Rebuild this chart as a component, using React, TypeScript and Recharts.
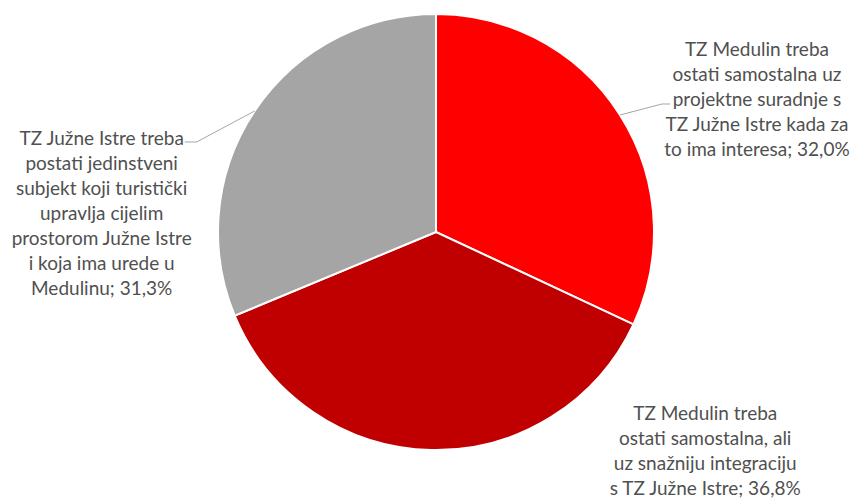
import { PieChart, Pie, Cell } from "recharts";

const categories = [
  "TZ Medulin treba ostati samostalna uz projektne suradnje s TZ Južne Istre kada za to ima interesa",
  "TZ Medulin treba ostati samostalna, ali uz snažniju integraciju s TZ Južne Istre",
  "TZ Južne Istre treba postati jedinstveni subjekt koji turistički upravlja cijelim prostorom Južne Istre i koja ima urede u Medulinu",
];
const values = [32.0, 36.8, 31.3];
const valueLabels = ["32,0%", "36,8%", "31,3%"];
const labelLines = [
  ["TZ Medulin treba", "ostati samostalna uz", "projektne suradnje s", "TZ Južne Istre kada za", "to ima interesa; 32,0%"],
  ["TZ Medulin treba", "ostati samostalna, ali", "uz snažniju integraciju", "s TZ Južne Istre; 36,8%"],
  ["TZ Južne Istre treba", "postati jedinstveni", "subjekt koji turistički", "upravlja cijelim", "prostorom Južne Istre", "i koja ima urede u", "Medulinu; 31,3%"],
];
const colors = ["#FF0000", "#C00000", "#A5A5A5"];

// label placement relative to the slice's outer edge point
const labelPos = [
  { dx: 137, dy: -67, line: [[42, -11], [50, -11]] },
  { dx: 274, dy: -37, line: null },
  { dx: -153, dy: 27, line: [[-58, 31], [-70, 31]] },
];

const data = categories.map((name, i) => ({ name, value: values[i], pct: valueLabels[i] }));

const RAD = Math.PI / 180;

function renderLabel(props: any) {
  const { cx, cy, midAngle, outerRadius, index } = props;
  const ex = cx + outerRadius * Math.cos(-midAngle * RAD);
  const ey = cy + outerRadius * Math.sin(-midAngle * RAD);
  const pos = labelPos[index];
  const lines = labelLines[index];
  const tx = ex + pos.dx;
  const ty = ey + pos.dy;
  return (
    <g key={`lbl-${index}`}>
      {pos.line && (
        <polyline
          points={[[ex, ey], ...pos.line.map(([x, y]) => [ex + x, ey + y])].map((p) => p.join(",")).join(" ")}
          fill="none"
          stroke="#A6A6A6"
          strokeWidth={1}
        />
      )}
      <text x={tx} y={ty} textAnchor="middle" fill="#505050" fontSize={19} fontFamily="Lato, 'Open Sans', sans-serif">
        {lines.map((l, i) => (
          <tspan key={i} x={tx} y={ty + i * 25} dominantBaseline="central">
            {l}
          </tspan>
        ))}
      </text>
    </g>
  );
}

export default function App() {
  return (
    <div style={{ position: "fixed", left: 0, top: 0, width: 854, height: 500, background: "#fff" }}>
      <PieChart width={854} height={500} margin={{ top: 0, right: 0, bottom: 0, left: 0 }}>
        <Pie
          data={data}
          dataKey="value"
          nameKey="name"
          cx={436}
          cy={232}
          outerRadius={218}
          startAngle={90}
          endAngle={-270}
          stroke="#FFFFFF"
          strokeWidth={2}
          label={renderLabel}
          labelLine={false}
          isAnimationActive={false}
        >
          {data.map((d, i) => (
            <Cell key={d.name} fill={colors[i]} />
          ))}
        </Pie>
      </PieChart>
    </div>
  );
}
